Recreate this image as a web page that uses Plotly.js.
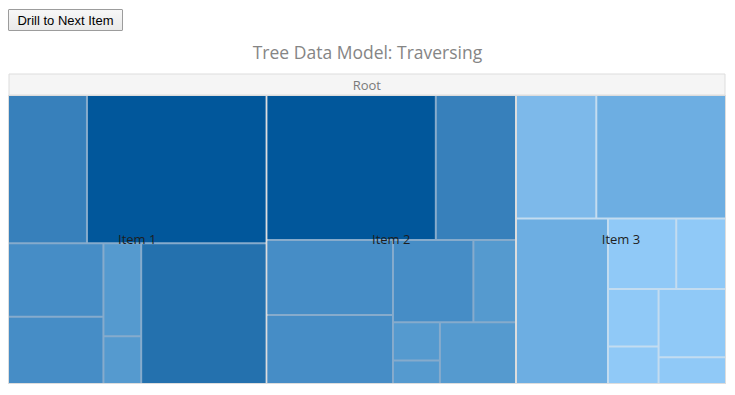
<!DOCTYPE html>
<html>
<head>
<meta charset="utf-8">
<script src="https://cdn.plot.ly/plotly-3.0.1.min.js"></script>
<style>
  html, body { margin: 0; padding: 0; background: #ffffff; }
  #chart { position: absolute; left: 0; top: 0; width: 735px; height: 395px; }
  #drill {
    position: absolute; left: 8px; top: 9px; width: 115px; height: 22px; z-index: 10;
    font-family: 'Liberation Sans', Arial, sans-serif; font-size: 13px; color: #000;
    background: linear-gradient(#f7f7f7, #e9e9e9); border: 1px solid #9c9c9c;
    border-radius: 1px; padding: 0; cursor: pointer;
  }
</style>
</head>
<body>
<div id="chart"></div>
<button id="drill">Drill to Next Item</button>
<script>
// ---------------- data ----------------
const chartTitle = 'Tree Data Model: Traversing';
const rootLabel = 'Root';
const items = ['Item 1', 'Item 2', 'Item 3'];
const item1Values = [117, 266, 70, 64, 35, 18, 176];
const item2Values = [245, 116, 95, 87, 66, 35, 18, 11, 47];
const item3Values = [99, 160, 152, 48, 35, 29, 19, 46, 18];

// ---------------- styles ----------------
const item1Colors = ['#3780bb', '#01579b', '#468dc6', '#468dc6', '#559acf', '#559acf', '#2471ae'];
const item2Colors = ['#01579b', '#3780bb', '#468dc6', '#468dc6', '#468dc6', '#559acf', '#559acf', '#559acf', '#559acf'];
const item3Colors = ['#7db9ea', '#6daee2', '#6daee2', '#90c9f7', '#90c9f7', '#90c9f7', '#90c9f7', '#90c9f7', '#90c9f7'];
const separatorColors = ['#86abcc', '#86abcc', '#c3dcf0'];
const frameColor = '#dddddd';

// ---------------- build hierarchy ----------------
const leafValues = [item1Values, item2Values, item3Values];
const leafColors = [item1Colors, item2Colors, item3Colors];
const sum = a => a.reduce((s, v) => s + v, 0);
const itemTotals = leafValues.map(sum);
const grandTotal = sum(itemTotals);

const ids = [rootLabel, ...items];
const labels = [rootLabel, ...items];
const parents = ['', ...items.map(() => rootLabel)];
const values = [grandTotal, ...itemTotals];
const colors = [frameColor, ...separatorColors];
const lineWidths = [2, 0, 0, 0];
items.forEach((it, k) => {
  leafValues[k].forEach((v, i) => {
    ids.push(it + '-' + (i + 1));
    labels.push(it + '.' + (i + 1));
    parents.push(it);
    values.push(v);
    colors.push(leafColors[k][i]);
    lineWidths.push(0);
  });
});

// ---------------- layout geometry ----------------
const W = 735, H = 395;
const margin = { l: 9, r: 10, t: 74, b: 12, pad: 0 };
const plotH = H - margin.t - margin.b;   // 309
const barH = 21;
const mainTop = 1 - (barH + 1) / plotH;

const common = {
  type: 'treemap',
  branchvalues: 'total',
  sort: false,
  tiling: { packing: 'squarify', squarifyratio: 1, pad: 2 },
  pathbar: { visible: false },
  hoverinfo: 'skip'
};

const rootBar = Object.assign({}, common, {
  labels: [rootLabel], parents: [''], values: [grandTotal],
  domain: { x: [0, 1], y: [1 - barH / plotH, 1] },
  marker: { colors: ['#f5f5f5'], line: { width: 1, color: frameColor }, pad: { t: 0, l: 0, r: 0, b: 0 }, depthfade: false },
  textinfo: 'label', textposition: 'middle center',
  textfont: { family: 'Open Sans, sans-serif', size: 13, color: '#7a7a7a' },
  insidetextfont: { family: 'Open Sans, sans-serif', size: 13, color: '#7a7a7a' }
});

const mainTree = Object.assign({}, common, {
  ids: ids, labels: labels, parents: parents, values: values,
  domain: { x: [0, 1], y: [0, mainTop] },
  marker: { colors: colors, line: { width: lineWidths, color: frameColor }, pad: { t: 0, l: 0, r: 0, b: 0 }, depthfade: false },
  textinfo: 'none'
});

const itemLabels = Object.assign({}, common, {
  labels: [rootLabel, ...items], parents: ['', ...items.map(() => rootLabel)],
  values: [grandTotal, ...itemTotals],
  text: ['', ...items],
  domain: { x: [0, 1], y: [0, mainTop] },
  marker: { colors: items.map(() => 'rgba(0,0,0,0)').concat(['rgba(0,0,0,0)']), line: { width: 0 }, pad: { t: 0, l: 0, r: 0, b: 0 }, depthfade: false },
  textinfo: 'text', textposition: 'middle center',
  textfont: { family: 'Open Sans, sans-serif', size: 13.5, color: '#1e1e1e' },
  insidetextfont: { family: 'Open Sans, sans-serif', size: 13.5, color: '#1e1e1e' }
});

const layout = {
  width: W, height: H,
  margin: margin,
  paper_bgcolor: '#ffffff',
  uniformtext: { mode: 'show', minsize: 13 },
  title: {
    text: chartTitle,
    x: 0.5, xanchor: 'center', y: 1 - 53 / H, yanchor: 'middle',
    font: { family: 'Open Sans, sans-serif', size: 17.5, color: '#858585' }
  },
  showlegend: false
};

Plotly.newPlot('chart', [rootBar, mainTree, itemLabels], layout, { displayModeBar: false });

// drill button: cycles through the items, then back to the root
let drillIndex = -1;
document.getElementById('drill').addEventListener('click', () => {
  drillIndex = (drillIndex + 1) % (items.length + 1);
  const lvl = drillIndex < items.length ? items[drillIndex] : rootLabel;
  Plotly.restyle('chart', { level: [lvl] }, [1]);
  Plotly.restyle('chart', { visible: [lvl === rootLabel] }, [2]);
});
</script>
</body>
</html>
